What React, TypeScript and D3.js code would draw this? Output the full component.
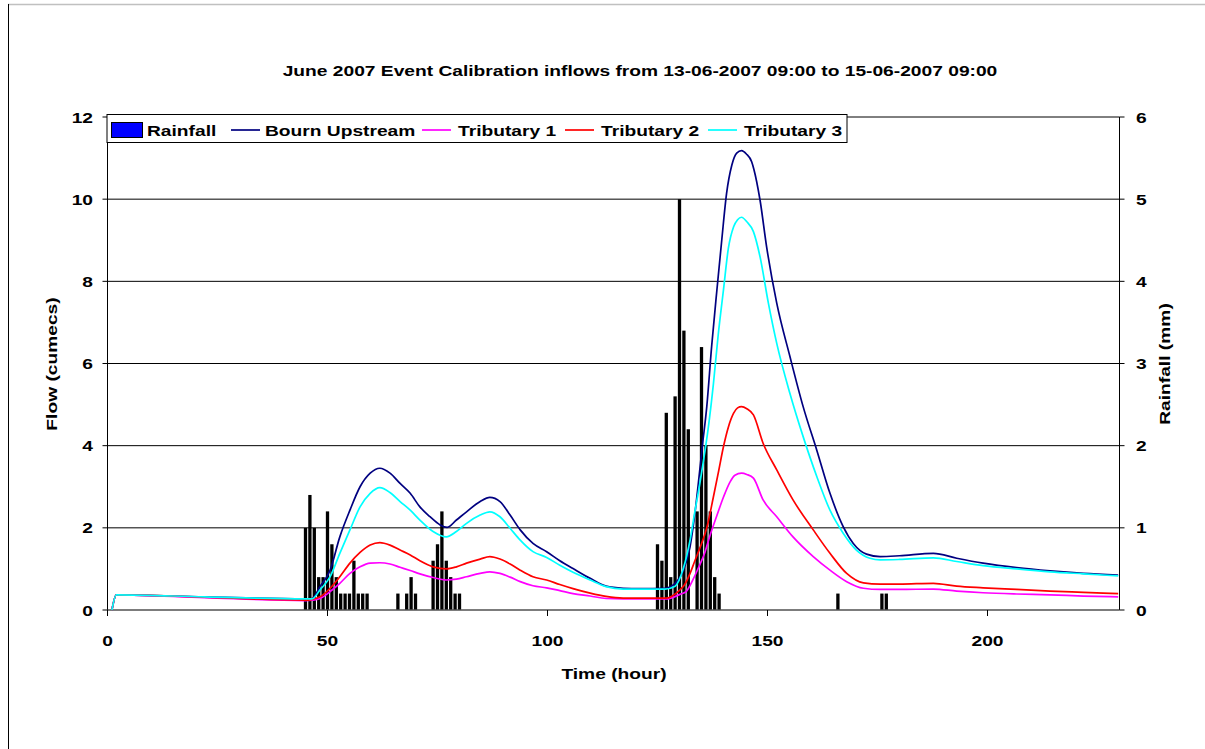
import React from "react";
import * as d3 from "d3";

const title = "June 2007 Event Calibration inflows from 13-06-2007 09:00 to 15-06-2007 09:00";
const xTicks = [0, 50, 100, 150, 200];
const flowTicks = [0, 2, 4, 6, 8, 10, 12];
const rainTicks = [0, 1, 2, 3, 4, 5, 6];

const rainHours = [45, 46, 47, 48, 49, 50, 51, 52, 53, 54, 55, 56, 57, 58, 59, 66, 68, 69, 70, 74, 75, 76, 77, 78, 79, 80, 125, 126, 127, 128, 129, 130, 131, 132, 134, 135, 136, 137, 138, 139, 166, 176, 177];
const rainMm = [1.0, 1.4, 1.0, 0.4, 0.4, 1.2, 0.8, 0.4, 0.2, 0.2, 0.2, 0.6, 0.2, 0.2, 0.2, 0.2, 0.2, 0.4, 0.2, 0.6, 0.8, 1.2, 0.6, 0.4, 0.2, 0.2, 0.8, 0.6, 2.4, 0.4, 2.6, 5.0, 3.4, 2.2, 1.2, 3.2, 2.0, 1.2, 0.4, 0.2, 0.2, 0.2, 0.2];

const bournUpstream: [number, number][] = [[1,0],[2,0.37],[22,0.32],[45,0.27],[46.5,0.28],[48.3,0.57],[50.6,0.97],[52.8,1.78],[55.1,2.43],[57.4,3.0],[59.7,3.33],[61.9,3.45],[64.2,3.33],[66.5,3.08],[68.8,2.84],[71,2.51],[73.3,2.27],[75.6,2.07],[77.2,2.01],[79.3,2.19],[81.6,2.39],[84.7,2.64],[86.9,2.74],[89.2,2.64],[91.5,2.31],[93.8,1.95],[96.7,1.62],[99.8,1.42],[102.8,1.2],[105.8,1.01],[109.7,0.77],[113.3,0.58],[117.2,0.53],[121,0.52],[126.7,0.53],[129,0.65],[130.9,0.97],[132.4,1.54],[133.5,2.35],[134.3,3.1],[135.2,4.0],[136.2,4.95],[137.3,6.41],[138.5,7.79],[139.6,9.0],[140.7,10.14],[141.9,10.83],[143.0,11.12],[144.1,11.18],[145.2,11.1],[146.4,10.91],[146.9,10.73],[148.3,9.98],[149.8,8.84],[152.1,7.47],[155.1,6.17],[158.1,4.95],[161.2,3.89],[164.2,2.84],[167.2,2.03],[169.5,1.62],[172.5,1.36],[175.6,1.30],[180,1.32],[187.7,1.38],[193,1.26],[199,1.14],[206.6,1.03],[214.2,0.95],[221.8,0.89],[229.7,0.85]];

const tributary1: [number, number][] = [[1,0],[2,0.37],[22,0.30],[45,0.23],[46.5,0.24],[48.3,0.28],[50.6,0.45],[52.8,0.65],[55.1,0.89],[57.4,1.05],[59.7,1.14],[61.9,1.15],[64.2,1.12],[66.5,1.04],[68.8,0.96],[71,0.88],[74,0.79],[77,0.73],[79.3,0.75],[81.6,0.81],[84.7,0.89],[86.9,0.93],[89.2,0.89],[91.5,0.80],[93.8,0.69],[96.7,0.59],[99.8,0.54],[102.8,0.47],[105.8,0.40],[109.7,0.34],[113.3,0.28],[117.2,0.27],[127,0.27],[130.1,0.38],[131.5,0.45],[133.2,0.77],[134.6,1.1],[135.6,1.35],[136.9,1.8],[138.5,2.3],[140,2.75],[141.5,3.12],[142.6,3.28],[144.1,3.33],[145.3,3.3],[146.8,3.21],[149,2.68],[152.1,2.27],[155.8,1.78],[160.4,1.30],[164.2,0.97],[168,0.69],[171.8,0.53],[175.6,0.50],[180,0.50],[187.7,0.51],[193,0.46],[199,0.42],[206.6,0.39],[214.2,0.37],[221.8,0.34],[229.7,0.32]];

const tributary2: [number, number][] = [[1,0],[2,0.37],[22,0.31],[45,0.24],[46.5,0.26],[48.3,0.32],[50.6,0.53],[52.8,0.81],[55.1,1.14],[57.4,1.40],[59.7,1.58],[61.9,1.64],[64.2,1.58],[66.5,1.46],[68.8,1.34],[71,1.20],[74,1.05],[77,1.00],[79.3,1.05],[81.6,1.14],[84.7,1.24],[86.9,1.30],[89.2,1.24],[91.5,1.12],[93.8,0.97],[96.7,0.81],[99.8,0.73],[102.8,0.62],[105.8,0.52],[109.7,0.41],[113.3,0.33],[117.2,0.29],[121,0.29],[127,0.29],[130.1,0.49],[131.2,0.62],[132.4,0.89],[133.5,1.2],[134.6,1.5],[136.2,2.0],[137.7,2.75],[138.8,3.33],[140,3.98],[141.1,4.45],[142.3,4.79],[143.2,4.92],[144.1,4.95],[145.3,4.9],[146.8,4.75],[149,4.06],[152.1,3.41],[155.8,2.68],[160.4,1.95],[164.2,1.38],[168,0.89],[171.8,0.66],[175.6,0.63],[180,0.63],[187.7,0.65],[193,0.58],[199,0.54],[206.6,0.50],[214.2,0.46],[221.8,0.43],[229.7,0.40]];

const tributary3: [number, number][] = [[1,0],[2,0.37],[22,0.32],[45,0.27],[46.5,0.27],[48.3,0.49],[50.6,0.81],[52.8,1.38],[55.1,1.95],[57.4,2.51],[59.7,2.84],[61.9,2.98],[64.2,2.86],[66.5,2.64],[68.8,2.43],[71,2.19],[74,1.91],[77,1.78],[79.3,1.91],[81.6,2.11],[84.7,2.31],[86.9,2.39],[89.2,2.27],[91.5,1.99],[93.8,1.70],[96.7,1.42],[99.8,1.28],[102.8,1.09],[105.8,0.92],[109.7,0.73],[113.3,0.57],[117.2,0.51],[121,0.51],[126.7,0.51],[129,0.58],[130.9,1.02],[132.4,1.70],[133.5,2.4],[134.5,3.0],[135.4,3.6],[136.5,4.4],[137.7,5.5],[138.8,6.7],[140,7.8],[141.1,8.8],[142.3,9.33],[143.2,9.5],[144.1,9.56],[145.3,9.45],[146.8,9.21],[148.3,8.60],[150.2,7.47],[152.1,6.49],[155.1,5.27],[158.1,4.22],[161.2,3.25],[164.2,2.43],[167.2,1.87],[170.2,1.46],[173.3,1.26],[175.6,1.22],[180,1.23],[187.7,1.27],[193,1.18],[199,1.08],[206.6,1.0],[214.2,0.93],[221.8,0.88],[229.7,0.83]];

const seriesNames = ["Bourn Upstream", "Tributary 1", "Tributary 2", "Tributary 3"];
const seriesColors = ["#000080", "#FF00FF", "#FF0000", "#00FFFF"];
const seriesData = [bournUpstream, tributary1, tributary2, tributary3];

const W = 1205, H = 749;
const L = 107.5, R = 1119.5, T = 117, B = 610;
const SX = 1.28;
const FONT = "'Liberation Sans', Arial, sans-serif";

function Txt(props: { x: number; y: number; anchor?: string; rot?: number; children: React.ReactNode }) {
  const { x, y, anchor = "start", rot = 0, children } = props;
  return (
    <text
      transform={`translate(${x},${y}) rotate(${rot}) scale(${SX},1)`}
      textAnchor={anchor}
      fontFamily={FONT}
      fontWeight="bold"
      fontSize={15}
      fill="#000"
    >
      {children}
    </text>
  );
}

export default function App() {
  const x = d3.scaleLinear().domain([0, 230]).range([L, R]);
  const y = d3.scaleLinear().domain([0, 12]).range([B, T]);
  const yr = d3.scaleLinear().domain([0, 6]).range([B, T]);
  const line = d3
    .line<[number, number]>()
    .x((d) => x(d[0]))
    .y((d) => y(d[1]))
    .curve(d3.curveMonotoneX);
  const bw = 3.3;

  const legendItems = [
    { lx: 231, tx: 265 },
    { lx: 422, tx: 458 },
    { lx: 565, tx: 601 },
    { lx: 708, tx: 744 },
  ];

  return (
    <svg width={W} height={H} style={{ position: "absolute", left: 0, top: 0, background: "#fff" }}>
      <rect x={0} y={0} width={W} height={H} fill="#fff" />
      <line x1={8} y1={4.5} x2={W} y2={4.5} stroke="#c0c0c0" strokeWidth={1.5} />
      <line x1={8.5} y1={4} x2={8.5} y2={H} stroke="#000" strokeWidth={1} />

      <Txt x={640} y={76} anchor="middle">{title}</Txt>

      {/* gridlines */}
      {flowTicks.filter((t) => t > 0).map((t) => (
        <line key={t} x1={L} x2={R} y1={y(t)} y2={y(t)} stroke="#000" strokeWidth={1} />
      ))}

      {/* rainfall bars */}
      {rainHours.map((h, i) => (
        <rect key={i} x={x(h) - bw / 2} y={yr(rainMm[i])} width={bw} height={B - yr(rainMm[i])} fill="#000" />
      ))}

      {/* axes */}
      <line x1={L} x2={L} y1={T} y2={B} stroke="#000" strokeWidth={1} />
      <line x1={R} x2={R} y1={T} y2={B} stroke="#000" strokeWidth={1} />
      <line x1={L} x2={R} y1={B} y2={B} stroke="#505050" strokeWidth={1.5} />
      {flowTicks.map((t) => (
        <g key={t}>
          <line x1={L - 5} x2={L} y1={y(t)} y2={y(t)} stroke="#000" />
          <Txt x={93} y={y(t) + 5.5} anchor="end">{t}</Txt>
        </g>
      ))}
      {rainTicks.map((t) => (
        <g key={t}>
          <line x1={R} x2={R + 5} y1={yr(t)} y2={yr(t)} stroke="#000" />
          <Txt x={1136} y={yr(t) + 5.5}>{t}</Txt>
        </g>
      ))}
      {xTicks.map((t) => (
        <g key={t}>
          <line x1={x(t)} x2={x(t)} y1={B} y2={B + 6} stroke="#000" />
          <Txt x={x(t)} y={645.5} anchor="middle">{t}</Txt>
        </g>
      ))}

      {/* series lines */}
      {seriesData.map((d, i) => (
        <path key={i} d={line(d) || ""} fill="none" stroke={seriesColors[i]} strokeWidth={1.7} />
      ))}

      <Txt x={(L + R) / 2 + 0.5} y={679} anchor="middle">Time (hour)</Txt>
      <Txt x={57} y={364} anchor="middle" rot={-90}>Flow (cumecs)</Txt>
      <Txt x={1170} y={364} anchor="middle" rot={-90}>Rainfall (mm)</Txt>

      {/* legend */}
      <rect x={107} y={114.5} width={740} height={28} fill="#fff" stroke="#000" strokeWidth={1} />
      <rect x={111.5} y={122.5} width={31} height={15} fill="#0000FF" stroke="#000" strokeWidth={1} />
      <Txt x={147} y={136}>Rainfall</Txt>
      {legendItems.map((it, i) => (
        <g key={i}>
          <line x1={it.lx} x2={it.lx + 29} y1={130} y2={130} stroke={seriesColors[i]} strokeWidth={1.7} />
          <Txt x={it.tx} y={136}>{seriesNames[i]}</Txt>
        </g>
      ))}
    </svg>
  );
}
